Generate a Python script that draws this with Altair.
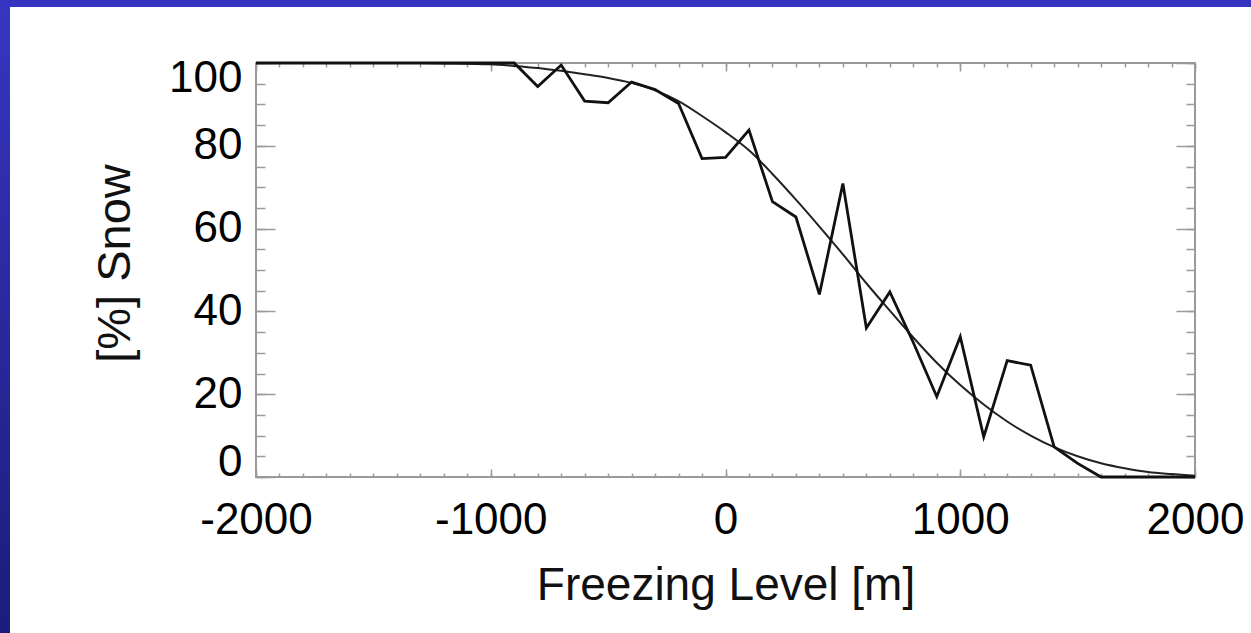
import altair as alt
import pandas as pd

# ---------------- data ----------------
freezing_level = [-2000, -1900, -1800, -1700, -1600, -1500, -1400, -1300, -1200, -1100,
                  -1000, -900, -800, -700, -600, -500, -400, -300, -200, -100,
                  0, 100, 200, 300, 400, 500, 600, 700, 800, 900,
                  1000, 1100, 1200, 1300, 1400, 1500, 1600, 1700, 1800, 1900, 2000]

snow_observed = [100, 100, 100, 100, 100, 100, 100, 100, 100, 100,
                 100, 100, 94.3, 99.5, 90.8, 90.4, 95.4, 93.6, 90.2, 76.9,
                 77.2, 83.8, 66.5, 62.8, 44.1, 70.9, 36.0, 44.7, 32.5, 19.4,
                 33.9, 9.7, 28.1, 27.0, 7.3, 3.3, 0, 0, 0, 0, 0]

snow_fit = [100, 100, 100, 100, 100, 100, 100, 100, 99.9, 99.8,
            99.7, 99.3, 98.8, 98.1, 97.3, 96.4, 95.2, 93.4, 90.8, 87.2,
            83.3, 78.9, 73.2, 67.0, 60.5, 53.8, 46.8, 40.2, 33.7, 27.6,
            22.2, 17.5, 13.4, 10.0, 7.2, 5.0, 3.3, 2.1, 1.2, 0.7, 0.3]

x_major_ticks = [-2000, -1000, 0, 1000, 2000]
x_minor_ticks = [-2000, -1900, -1800, -1700, -1600, -1500, -1400, -1300, -1200, -1100,
                 -1000, -900, -800, -700, -600, -500, -400, -300, -200, -100,
                 0, 100, 200, 300, 400, 500, 600, 700, 800, 900,
                 1000, 1100, 1200, 1300, 1400, 1500, 1600, 1700, 1800, 1900, 2000]
y_major_ticks = [0, 20, 40, 60, 80, 100]
y_minor_ticks = [0, 5, 10, 15, 20, 25, 30, 35, 40, 45, 50, 55, 60, 65, 70, 75, 80, 85, 90, 95, 100]

# ---------------- layout / style ----------------
W, H = 939, 414
PAD_L, PAD_T = 256, 63
TOTAL_W, TOTAL_H = 1251, 633
FONT = "Liberation Sans"
TICK_COLOR = "#9a9a9a"

df = pd.DataFrame({"level": freezing_level, "observed": snow_observed, "fit": snow_fit})
deco = pd.DataFrame({"d": [0]})

x_scale = alt.Scale(domain=[-2000, 2000], nice=False, zero=False)
y_scale = alt.Scale(domain=[0, 100], nice=False, zero=False)


def tick_axis(orient, offset, values, size):
    return alt.Axis(orient=orient, offset=offset, values=values, tickSize=size,
                    tickColor=TICK_COLOR, tickWidth=1.5, labels=False, title=None,
                    domain=False, grid=False, ticks=True)


x_label_axis = alt.Axis(orient="bottom", values=x_major_ticks, ticks=False, domain=False,
                        grid=False, labelFlush=False, labelPadding=21, labelFontSize=44,
                        labelFont=FONT, labelColor="black", labelExpr="'' + datum.value",
                        title="Freezing Level [m]", titleFont=FONT, titleFontSize=46,
                        titleFontWeight="normal", titleColor="#111111",
                        titleX=W / 2, titleY=122, titleAlign="center",
                        titleBaseline="alphabetic")

y_label_axis = alt.Axis(orient="left", values=y_major_ticks, ticks=False, domain=False,
                        grid=False, labelFlush=True, labelFlushOffset=7, labelPadding=14,
                        labelFontSize=44, labelFont=FONT, labelColor="black",
                        title="[%] Snow", titleFont=FONT, titleFontSize=47,
                        titleFontWeight="normal", titleColor="#111111",
                        titleAngle=270, titleX=-141, titleY=200, titleAlign="center",
                        titleBaseline="middle")

# decoration: blue slide border (left gradient strip and top strip)
left_strip = alt.Chart(deco).mark_rect(
    fill=alt.LinearGradient(gradient="linear",
                            stops=[alt.GradientStop(color="#3636c2", offset=0),
                                   alt.GradientStop(color="#1c1c7a", offset=1)],
                            x1=0, x2=0, y1=0, y2=1)
).encode(x=alt.value(-PAD_L), x2=alt.value(-PAD_L + 10),
         y=alt.value(-PAD_T), y2=alt.value(TOTAL_H - PAD_T))

top_strip = alt.Chart(deco).mark_rect(fill="#3434c0").encode(
    x=alt.value(-PAD_L), x2=alt.value(TOTAL_W - PAD_L),
    y=alt.value(-PAD_T), y2=alt.value(-PAD_T + 7))

base = alt.Chart(df)

fit_line = base.mark_line(color="#222222", strokeWidth=2, interpolate="monotone").encode(
    x=alt.X("level:Q", scale=x_scale, axis=x_label_axis),
    y=alt.Y("fit:Q", scale=y_scale, axis=y_label_axis))

obs_line = base.mark_line(color="#111111", strokeWidth=2.8).encode(
    x=alt.X("level:Q", scale=x_scale, axis=tick_axis("top", -H, x_major_ticks, 8)),
    y=alt.Y("observed:Q", scale=y_scale, axis=tick_axis("right", -W, y_major_ticks, 19)))

ghost1 = base.mark_line(opacity=0).encode(
    x=alt.X("level:Q", scale=x_scale, axis=tick_axis("top", -H, x_minor_ticks, 4)),
    y=alt.Y("fit:Q", scale=y_scale, axis=tick_axis("right", -W, y_minor_ticks, 9)))

ghost2 = base.mark_line(opacity=0).encode(
    x=alt.X("level:Q", scale=x_scale, axis=tick_axis("bottom", -H, x_major_ticks, 8)),
    y=alt.Y("fit:Q", scale=y_scale, axis=tick_axis("left", -W, y_major_ticks, 19)))

ghost3 = base.mark_line(opacity=0).encode(
    x=alt.X("level:Q", scale=x_scale, axis=tick_axis("bottom", -H, x_minor_ticks, 4)),
    y=alt.Y("fit:Q", scale=y_scale, axis=tick_axis("left", -W, y_minor_ticks, 9)))

chart = alt.layer(
    left_strip, top_strip, fit_line, obs_line, ghost1, ghost2, ghost3
).resolve_axis(x="independent", y="independent").properties(
    width=W, height=H,
    autosize=alt.AutoSizeParams(type="none"),
    padding={"left": PAD_L, "top": PAD_T, "right": TOTAL_W - PAD_L - W,
             "bottom": TOTAL_H - PAD_T - H},
    background="white",
).configure_view(stroke="#9a9a9a", strokeWidth=2)

chart.save("out.html", embed_options={"renderer": "svg", "actions": False})
